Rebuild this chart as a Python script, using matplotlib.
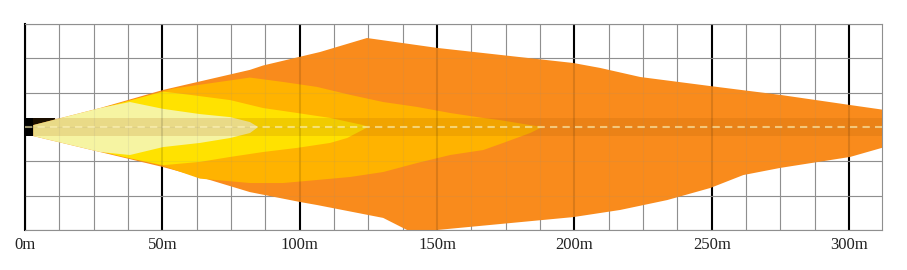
import numpy as np
import matplotlib.pyplot as plt

# beam outlines: distance ahead (m) / lateral offset (m), top edge left->right then bottom edge right->left
outer_x = [3, 27.3, 50.3, 81.9, 86.7, 107.4, 124.5, 150.0, 199.6, 209.4, 224.0, 249.5, 274.9, 300.4, 313,
           313, 300.4, 274.9, 261.5, 249.5, 233.8, 216.7, 199.6, 150.0, 139.1, 130.4, 106.3, 100.1, 81.9, 63.7,
           50.3, 27.3, 3]
outer_y = [0.7, 6.9, 13.5, 20.8, 22.4, 27.3, 32.4, 28.8, 23.3, 21.5, 18.2, 14.9, 11.7, 8.0, 6.2,
           -7.3, -10.9, -14.9, -17.5, -22.2, -26.6, -30.2, -32.8, -37.5, -37.5, -33.1, -28.4, -27.3, -23.7, -18.2,
           -14.6, -9.1, -3.3]

golden_x = [27.3, 50.3, 53.9, 81.9, 94.0, 106.3, 118.4, 130.4, 142.8, 154.8, 166.8, 173.0, 183.9, 188.3,
            183.9, 174.1, 166.8, 154.8, 142.8, 130.4, 118.4, 106.3, 94.0, 81.9, 63.7, 50.3, 27.3]
golden_y = [6.6, 13.0, 14.0, 18.0, 16.4, 14.6, 11.7, 9.1, 7.3, 5.1, 3.3, 2.5, 0.7, 0,
            -2.2, -5.8, -8.4, -10.2, -13.1, -16.4, -18.2, -19.3, -20.4, -20.4, -18.8, -14.2, -8.8]

yellow_x = [27.3, 50.3, 60.1, 74.7, 86.7, 99.1, 111.1, 123.1, 124.9,
            117.3, 111.1, 99.1, 86.7, 74.7, 63.7, 50.3, 38.2, 27.3]
yellow_y = [6.7, 12.9, 11.7, 9.8, 6.9, 5.1, 3.3, 0.7, 0,
            -4.0, -5.8, -7.6, -9.1, -10.9, -12.7, -13.9, -11.4, -8.9]

pale_x = [3, 27.3, 38.2, 50.3, 63.7, 74.7, 81.9, 84.9, 81.9, 74.7, 63.7, 50.3, 38.2, 27.3, 3]
pale_y = [0.7, 6.9, 9.1, 6.6, 4.7, 3.6, 1.8, 0, -2.2, -4.0, -5.8, -7.3, -10.2, -9.1, -3.3]

layers = [(outer_x, outer_y, '#f98b1c'), (golden_x, golden_y, '#ffb300'),
          (yellow_x, yellow_y, '#ffe200'), (pale_x, pale_y, '#f6f4a2')]

tick_pos = [0, 50, 100, 150, 200, 250, 300]
tick_lbl = ['0m', '50m', '100m', '150m', '200m', '250m', '300m']

fig = plt.figure(figsize=(9.07, 2.70), dpi=100)
ax = fig.add_axes([25 / 907, 40 / 270, 857 / 907, 206 / 270])
ax.set_xlim(0, 312)
ax.set_ylim(-37.5, 37.5)

minor = np.arange(0, 313, 12.5)
rows = np.arange(-37.5, 37.6, 12.5)


def draw_grid(z, a):
    for v in minor:
        if v % 50 == 0:
            ax.axvline(v, color='black', lw=1.5, zorder=z, alpha=a)
        else:
            ax.axvline(v, color='#8f8f8f', lw=0.8, zorder=z, alpha=a)
    for h in rows:
        ax.axhline(h, color='#8f8f8f', lw=0.8, zorder=z, alpha=a)


draw_grid(0, 1)

# vehicle
ax.fill([0, 11, 11, 0], [3.3, 3.3, -3.3, -3.3], color='black', zorder=1, lw=0)

for xs, ys, c in layers:
    ax.fill(xs, ys, color=c, lw=0, zorder=2)

# road band and centre line
ax.fill([3, 313, 313, 3], [3.3, 3.3, -3.3, -3.3], color='#a85800', alpha=0.16, lw=0, zorder=3)
ax.plot([0, 313], [0, 0], color='#fff4b8', alpha=0.6, lw=1.5, dashes=(3.5, 2.5), zorder=4)

draw_grid(3, 0.12)

for s in ax.spines.values():
    s.set_color('#8f8f8f')
    s.set_linewidth(0.8)
ax.spines['left'].set_color('black')
ax.spines['left'].set_linewidth(1.5)

ax.set_xticks(tick_pos)
ax.set_xticklabels(tick_lbl, fontfamily='Liberation Serif', fontsize=12, color='#222222')
ax.tick_params(axis='x', length=0, pad=5)
ax.set_yticks([])

fig.savefig('out.png', dpi=100)
